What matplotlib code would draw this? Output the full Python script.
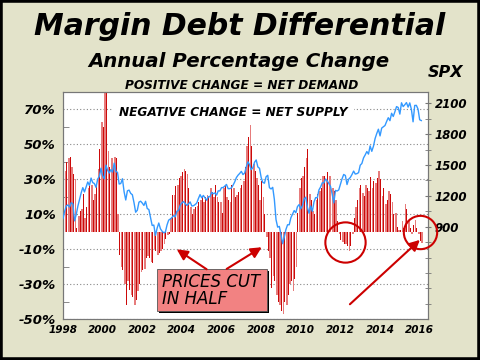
import numpy as np
import matplotlib
matplotlib.use("Agg")
import matplotlib.pyplot as plt
from matplotlib.patches import Rectangle

plt.rcParams["font.family"] = "DejaVu Sans"
plt.rcParams["font.weight"] = "bold"
plt.rcParams["font.style"] = "italic"

# margin debt, annual % change, monthly from Jan 1998
margin_chg = [
    29, 35, 40, 42, 43, 37, 33, 30, 2, 9, 12, 13,            # 1998
    21.5, 8, 14, 25, 26, 27, 18, 21.5, 27, 36, 47.5, 63,     # 1999
    60, 90, 84, 46.5, 37, 42, 37, 43, 42, 10, -13, -20,      # 2000
    -22, -30, -42, -28, -33, -36, -37, -42, -39, -34, -30, -23,  # 2001
    -22, -21, -15, -14, -15, -17, -18, -10, -11, -13, -12, -11,  # 2002
    -10, -7, -4, -2, -1, 8, 21, 21, 26, 27, 31, 32,          # 2003
    34, 36, 35, 33, 25, 14, 10, 13, 14, 15, 17, 18,          # 2004
    20, 17, 20, 21, 20, 25, 23, 20, 27, 20, 17, 17,          # 2005
    11, 25, 27, 20, 18, 17, 27, 25, 20, 21, 23, 25,          # 2006
    27, 29, 37, 49, 54, 63, 49, 39, 35, 31, 27, 18,          # 2007
    29, 20, 10, -3, -11, -15, -32, -25, -28, -36, -40, -42,  # 2008
    -45, -47, -40, -42, -36, -30, -28, -34, -27, -20, 11, 25,  # 2009
    31, 32, 37, 42, 47.5, 21.5, 18, 12, 10, 18, 21.5, 23.5,  # 2010
    25, 32, 32, 29, 34, 32, 31, 25, 23.5, 18, 6, -1.5,       # 2011
    -4.4, -6, -7, -7, -8, -11, -8, -1.5, 8, 14, 18, 25,      # 2012
    27, 22.5, 20.5, 27, 25, 23.5, 31.5, 25, 29, 28, 31, 35,  # 2013
    30, 20.5, 25, 16, 18, 23.5, 21.5, 17, 10, 11, 3, 1.3,    # 2014
    1, 6, 2, 16, 13, 7, 2, -1.5, 4, 7, 2, -1.5,              # 2015
    -5.4, -6.3,                                              # 2016
]

# S&P 500 monthly close
spx = [
    980, 1049, 1102, 1112, 1091, 1134, 1121, 957, 1017, 1099, 1164, 1229,
    1280, 1238, 1286, 1335, 1302, 1373, 1329, 1320, 1283, 1363, 1389, 1469,
    1394, 1366, 1499, 1452, 1421, 1455, 1431, 1518, 1437, 1429, 1315, 1320,
    1366, 1240, 1160, 1249, 1256, 1224, 1211, 1134, 1041, 1060, 1139, 1148,
    1130, 1107, 1147, 1077, 1067, 990, 912, 916, 815, 886, 936, 880,
    856, 841, 848, 917, 964, 975, 990, 1008, 996, 1051, 1058, 1112,
    1131, 1145, 1126, 1107, 1121, 1141, 1102, 1104, 1115, 1130, 1174, 1212,
    1181, 1204, 1181, 1157, 1192, 1191, 1234, 1220, 1229, 1207, 1249, 1248,
    1280, 1281, 1295, 1311, 1270, 1270, 1277, 1304, 1336, 1378, 1401, 1418,
    1438, 1407, 1421, 1482, 1531, 1503, 1455, 1474, 1527, 1549, 1481, 1468,
    1379, 1331, 1323, 1386, 1400, 1280, 1267, 1283, 1165, 969, 896, 903,
    826, 735, 798, 873, 919, 919, 987, 1021, 1057, 1036, 1096, 1115,
    1074, 1104, 1169, 1187, 1089, 1031, 1102, 1049, 1141, 1183, 1181, 1258,
    1286, 1327, 1326, 1364, 1345, 1321, 1292, 1219, 1131, 1253, 1247, 1258,
    1312, 1366, 1408, 1398, 1310, 1362, 1379, 1407, 1441, 1412, 1416, 1426,
    1498, 1515, 1569, 1598, 1631, 1606, 1686, 1633, 1682, 1757, 1806, 1848,
    1783, 1859, 1872, 1884, 1924, 1960, 1931, 2003, 1972, 2018, 2068, 2059,
    1995, 2105, 2068, 2086, 2107, 2063, 2104, 2040, 1920, 2079, 2080, 2044,
    1940, 1932,
]

pct_ticks = [-50, -30, -10, 10, 30, 50, 70]
pct_minor = [-40, -20, 20, 40, 60]
spx_ticks = [900, 1200, 1500, 1800, 2100]
year_ticks = list(range(1998, 2017, 2))

t = 1998 + np.arange(len(margin_chg)) / 12.0
vals = np.array(margin_chg, dtype=float)

BG = "#e3e3ca"
DARK = "#cc0a0a"
LIGHT = "#e67c7c"
BLUE = "#3399ff"

fig = plt.figure(figsize=(4.8, 3.6), dpi=100, facecolor=BG)
ax = fig.add_axes([0.13125, 0.1131, 0.7604, 0.6314])
ax.set_facecolor("white")
ax2 = ax.twinx()

# bars: alternating dark / light red
dark = np.arange(len(vals)) % 2 == 0
ax.bar(t[~dark], vals[~dark], width=1.0 / 12, color=LIGHT, align="edge", zorder=2)
ax.bar(t[dark], vals[dark], width=0.6 / 12, color=DARK, align="edge", zorder=3)

ax.set_xlim(1998, 2016.42)
ax.set_ylim(-50, 80)
ax.set_yticks(pct_ticks)
ax.set_yticklabels([f"{v}%" for v in pct_ticks])
ax.set_yticks(pct_minor, minor=True)
ax.set_xticks(year_ticks)
ax.set_xticklabels([str(y) for y in year_ticks])
ax.tick_params(axis="y", which="major", length=0, pad=5, labelsize=9.5)
ax.tick_params(axis="y", which="minor", length=4, direction="in", color="#777777")
ax.tick_params(axis="x", length=0, pad=4, labelsize=7.5)
ax.yaxis.grid(True, which="major", linestyle=(0, (1, 2)), color="#888888", lw=0.8)
ax.set_axisbelow(True)
for s in ax.spines.values():
    s.set_color("#777777")

# SPX line
ax2.plot(t, spx, color=BLUE, lw=1.0, zorder=5)
ax2.set_ylim(0, 2210)
ax2.set_yticks(spx_ticks)
ax2.set_yticklabels([str(v) for v in spx_ticks])
ax2.set_yticks([v for v in range(150, 2101, 150) if v not in spx_ticks], minor=True)
ax2.tick_params(axis="y", which="both", length=4, direction="inout",
                color="#777777", pad=3, labelsize=8.5)
for s in ax2.spines.values():
    s.set_color("#777777")

# text inside plot
ax.text(0.467, 0.894, "NEGATIVE CHANGE = NET SUPPLY", transform=ax.transAxes,
        ha="center", va="baseline", fontsize=8.7, zorder=4,
        bbox=dict(boxstyle="square,pad=0.5", facecolor="white", edgecolor="none"))

# "prices cut in half" box with shadow
ax2.add_patch(Rectangle((0.2567 + 0.006, 0.0378 - 0.009), 0.3014, 0.1822,
                        transform=ax.transAxes, facecolor="black", zorder=6))
ax2.add_patch(Rectangle((0.2567, 0.0378), 0.3014, 0.1822,
                        transform=ax.transAxes, facecolor="#f28282",
                        edgecolor="#555555", lw=0.6, zorder=7))
ax2.text(0.2704, 0.1434, "PRICES CUT", transform=ax.transAxes, fontsize=12,
         fontweight="normal", va="baseline", ha="left", zorder=8)
ax2.text(0.2704, 0.066, "IN HALF", transform=ax.transAxes, fontsize=12,
         fontweight="normal", va="baseline", ha="left", zorder=8)

arrow_kw = dict(arrowstyle="-|>", color="#cc0000", lw=1.5, mutation_scale=16,
                shrinkA=0, shrinkB=0)
for tail, head in [((2005.25, -21.4), (2003.74, -10.0)),
                   ((2006.26, -21.2), (2008.03, -8.8)),
                   ((2012.48, -41.4), (2016.01, -4.6))]:
    ax2.annotate("", xy=head, xytext=tail, xycoords=ax.transData,
                 textcoords=ax.transData, arrowprops=arrow_kw,
                 annotation_clip=False, zorder=9)

# circles
ax2.plot([2012.23], [-5.6 * 2210 / 130 + 50 * 2210 / 130], "o", ms=29,
         mfc="none", mec="#cc0000", mew=1.5, clip_on=False, zorder=9)
ax2.plot([2016.01], [0.1 * 2210 / 130 + 50 * 2210 / 130], "o", ms=24,
         mfc="none", mec="#cc0000", mew=1.5, clip_on=False, zorder=9)

# titles
fig.text(0.5, 0.903, "Margin Debt Differential", ha="center", va="baseline",
         fontsize=21.5)
fig.text(0.498, 0.814, "Annual Percentage Change", ha="center", va="baseline",
         fontsize=14.2)
fig.text(0.504, 0.753, "POSITIVE CHANGE = NET DEMAND", ha="center",
         va="baseline", fontsize=8.7)
fig.text(0.929, 0.786, "SPX", ha="center", va="baseline", fontsize=11.5)

fig.patches.append(Rectangle((0, 0), 1, 1, transform=fig.transFigure,
                             fill=False, edgecolor="black", lw=4))

fig.savefig("out.png", dpi=100, facecolor=BG)
